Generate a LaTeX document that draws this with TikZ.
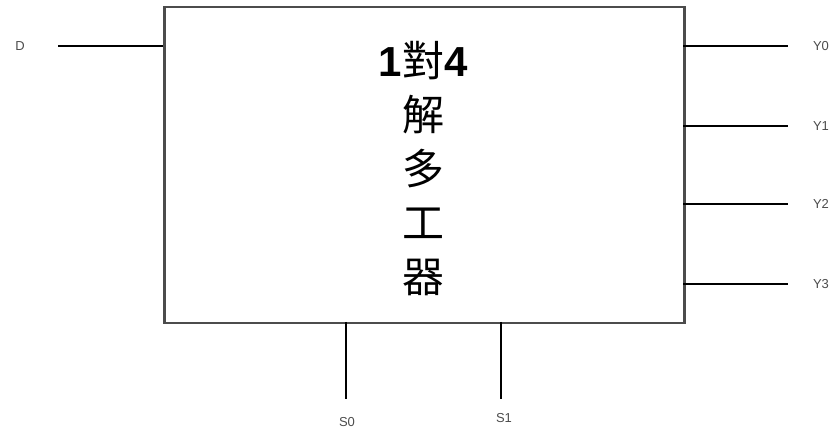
\documentclass[tikz,border=0pt]{standalone}
\usepackage{fontspec}
\setmainfont{Liberation Sans}
\newfontfamily\cjk{Noto Sans CJK TC}
\begin{document}
\begin{tikzpicture}[x=1pt,y=-1pt,
  boxst/.style={draw=black!70,line width=2.5pt},
  wire/.style={draw=black,line width=1.3pt},
  lbl/.style={font=\fontsize{13}{15}\selectfont,text=black!70,inner sep=0pt}]
\useasboundingbox (0,0) rectangle (839,430);
\node[boxst,minimum width=520pt,minimum height=316pt,inner sep=0pt,anchor=north west] (box) at (163,6) {};
% title text
\node[inner sep=0pt,align=center,font=\fontsize{42}{54}\selectfont] (title) at (423,169)
  {\textbf{1}{\cjk 對}\textbf{4}\\{\cjk 解}\\{\cjk 多}\\{\cjk 工}\\{\cjk 器}};
% input D
\coordinate (dend) at (58,46);
\node[lbl] (D) at (20,46) {D};
\draw[wire] (dend) -- (box.west |- dend);
% outputs
\foreach \i/\y in {0/46,1/126,2/204,3/284}{
  \coordinate (y\i a) at (683,\y);
  \coordinate (y\i b) at (788,\y);
  \draw[wire] (y\i a) -- (y\i b);
  \node[lbl] (Y\i) at (821,\y) {Y\i};
}
% selects
\coordinate (s0a) at (346,322);
\coordinate (s0b) at (346,399);
\draw[wire] (s0a) -- (s0b);
\node[lbl] (S0) at (347,422) {S0};
\coordinate (s1a) at (501,322);
\coordinate (s1b) at (501,399);
\draw[wire] (s1a) -- (s1b);
\node[lbl] (S1) at (504,418) {S1};
\end{tikzpicture}
\end{document}
